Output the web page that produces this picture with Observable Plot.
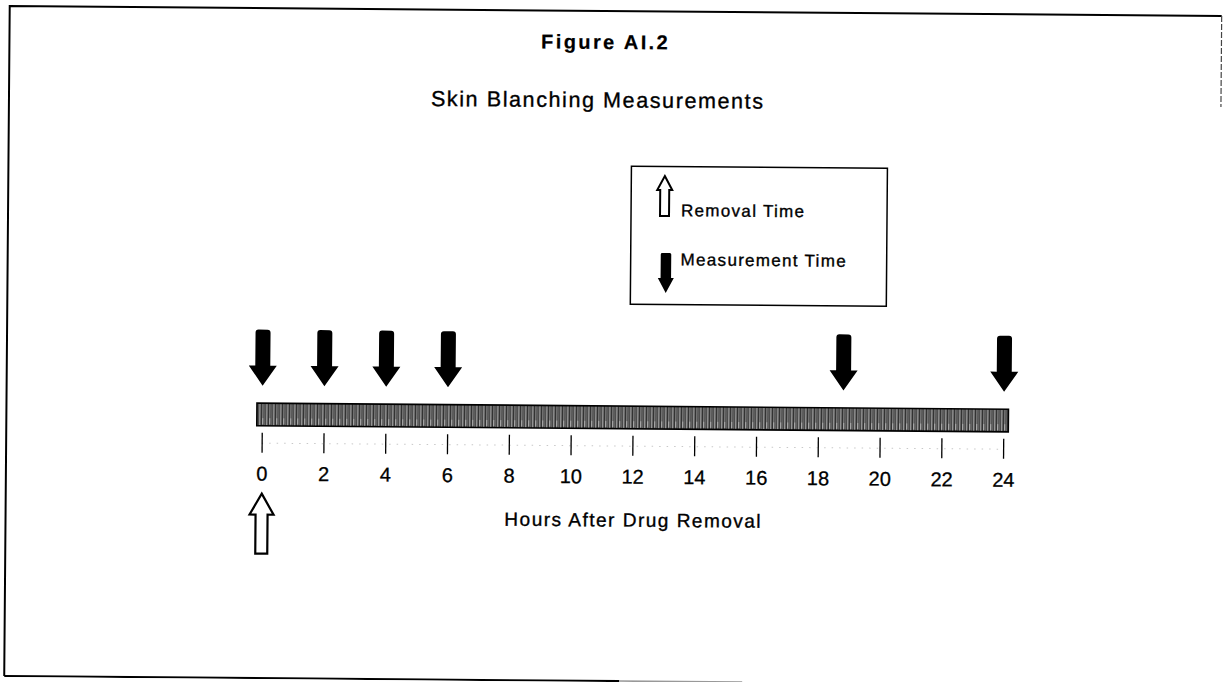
<!DOCTYPE html>
<html>
<head>
<meta charset="utf-8">
<script src="https://cdn.jsdelivr.net/npm/d3@7"></script>
<script src="https://cdn.jsdelivr.net/npm/@observablehq/plot@0.6"></script>
<style>
  html, body { margin: 0; padding: 0; background: #fff; overflow: hidden; }
  #wrap { position: relative; width: 1223px; height: 682px; transform: rotate(0.47deg); transform-origin: 611.5px 341px; }
  #wrap svg { position: absolute; left: 0; top: 0; }
</style>
</head>
<body>
<div id="wrap"></div>
<script>
// ---------------- data ----------------
const tickHours = [0, 2, 4, 6, 8, 10, 12, 14, 16, 18, 20, 22, 24];
const tickLabels = ["0", "2", "4", "6", "8", "10", "12", "14", "16", "18", "20", "22", "24"];
const measurementHours = [0, 2, 4, 6, 18.8, 24];
const removalHours = [0];
const timelineStart = [0];
const timelineEnd = [24];
const titleText = "Figure AI.2";
const subtitleText = "Skin Blanching Measurements";
const axisLabelText = "Hours After Drug Removal";
const legendLabels = ["Removal Time", "Measurement Time"];

// ---------------- layout ----------------
const W = 1223, H = 682;
const FONT = '"Liberation Sans", Arial, Helvetica, sans-serif';
const X0 = 262.5, X24 = 1004;
const BAR_TOP = 406, BAR_BOTTOM = 428.6;
const TICK_TOP = 435.5, TICK_BOTTOM = 455.5;
const TICK_FONT = 20, TICK_BASE = 483;
const MEAS_Y = 360, REM_Y = 524;

// arrow symbol factories (pixel offsets relative to the anchor)
function downArrow(sw, hw, top, base, tip, r) {
  return { draw(ctx) {
    ctx.moveTo(-sw, top + r);
    ctx.quadraticCurveTo(-sw, top, -sw + r, top);
    ctx.lineTo(sw - r, top);
    ctx.quadraticCurveTo(sw, top, sw, top + r);
    ctx.lineTo(sw, base);
    ctx.lineTo(hw, base);
    ctx.lineTo(0, tip);
    ctx.lineTo(-hw, base);
    ctx.lineTo(-sw, base);
    ctx.closePath();
  }};
}
function upArrow(sw, hw, tip, base, bottom) {
  return { draw(ctx) {
    ctx.moveTo(0, tip);
    ctx.lineTo(hw, base);
    ctx.lineTo(sw, base);
    ctx.lineTo(sw, bottom);
    ctx.lineTo(-sw, bottom);
    ctx.lineTo(-sw, base);
    ctx.lineTo(-hw, base);
    ctx.closePath();
  }};
}
const bigDown = downArrow(7.5, 14, -28, 8, 28, 3);
const bigUp = upArrow(6, 12, -28, -7, 32);
const smallUp = upArrow(4.5, 7.5, 0, 14, 40);
const smallDown = downArrow(5.25, 8, 0, 25, 40, 1.5);

const timeline = timelineStart.map((s, i) => ({ start: s, end: timelineEnd[i] }));
const ticks = tickHours.map((h, i) => ({ hour: h, label: tickLabels[i] }));

// ---------------- chart ----------------
const chart = Plot.plot({
  width: W,
  height: H,
  marginTop: 0,
  marginBottom: 0,
  marginLeft: X0,
  marginRight: W - X24,
  x: { domain: [0, 24], axis: null },
  y: { domain: [0, H], range: [0, H], axis: null },
  style: { background: "transparent", fontFamily: FONT, overflow: "visible" },
  marks: [
    Plot.ruleY([445.5], { x1: 0, x2: 24, stroke: "#c8c8c8", strokeWidth: 1, strokeDasharray: "1.5,6" }),
    Plot.rect(timeline, {
      x1: "start", x2: "end", y1: BAR_TOP, y2: BAR_BOTTOM,
      insetLeft: -5, insetRight: -5,
      fill: "url(#hatch)", stroke: "#000", strokeWidth: 1.6
    }),
    Plot.ruleX(ticks, { x: "hour", y1: TICK_TOP, y2: TICK_BOTTOM, stroke: "#000", strokeWidth: 1.3 }),
    Plot.text(ticks, {
      x: "hour", y: TICK_BASE - 0.32 * TICK_FONT, text: "label",
      fontSize: TICK_FONT, fill: "#000", stroke: "#000", strokeWidth: 0.3
    }),
    Plot.dot(measurementHours, { x: d => d, y: MEAS_Y, symbol: bigDown, fill: "#000", stroke: "none" }),
    Plot.dot(removalHours, { x: d => d, y: REM_Y, symbol: bigUp, fill: "#fff", stroke: "#000", strokeWidth: 2.2 })
  ]
});

// hatch pattern for the timeline bar
const defs = d3.select(chart).insert("defs", ":first-child");
const pat = defs.append("pattern").attr("id", "hatch")
  .attr("patternUnits", "userSpaceOnUse").attr("width", 7).attr("height", 23);
pat.append("rect").attr("width", 7).attr("height", 23).attr("fill", "#333");
pat.append("rect").attr("x", 1).attr("width", 1).attr("height", 23).attr("fill", "#c0c0c0");
pat.append("rect").attr("x", 4).attr("width", 1).attr("height", 23).attr("fill", "#9a9a9a");
pat.append("rect").attr("x", 6).attr("width", 1).attr("height", 23).attr("fill", "#777");
pat.append("rect").attr("x", 4).attr("y", 7).attr("width", 1).attr("height", 6).attr("fill", "#d8d8d8");

const wrap = document.getElementById("wrap");
wrap.appendChild(chart);

// ---------------- overlay: frame, titles, legend ----------------
const ov = d3.select(wrap).append("svg")
  .attr("width", W).attr("height", H)
  .style("font-family", FONT).style("pointer-events", "none");

// frame
ov.append("path").attr("d", "M7,681 L7,11 L1219,11")
  .attr("fill", "none").attr("stroke", "#000").attr("stroke-width", 2);
ov.append("path").attr("d", "M1219,11 L1219,102")
  .attr("fill", "none").attr("stroke", "#444").attr("stroke-width", 1.2).attr("stroke-dasharray", "6,2");
ov.append("path").attr("d", "M7,681 L622,681")
  .attr("fill", "none").attr("stroke", "#000").attr("stroke-width", 2);
ov.append("path").attr("d", "M622,681 L745,681")
  .attr("fill", "none").attr("stroke", "#999").attr("stroke-width", 1.6);

function addText(txt, x, y, size, spacing, weight, anchor) {
  ov.append("text")
    .attr("x", anchor === "middle" ? x + spacing / 2 : x)
    .attr("y", y)
    .attr("text-anchor", anchor)
    .attr("font-size", size)
    .attr("font-weight", weight)
    .attr("letter-spacing", spacing)
    .attr("fill", "#000")
    .attr("stroke", "#000")
    .attr("stroke-width", weight === "bold" ? 0.2 : 0.35)
    .text(txt);
}
addText(titleText, 602, 49, 20, 2.4, "bold", "middle");
addText(subtitleText, 595, 107.4, 21.5, 1.6, "normal", "middle");
addText(axisLabelText, 634, 526.5, 19, 1.5, "normal", "middle");

// legend
ov.append("rect").attr("x", 630).attr("y", 166).attr("width", 256).attr("height", 138)
  .attr("fill", "none").attr("stroke", "#000").attr("stroke-width", 1.5);
function symPath(sym) { const p = d3.path(); sym.draw(p, 0); return p.toString(); }
ov.append("path").attr("d", symPath(smallUp)).attr("transform", "translate(663.5,175.6)")
  .attr("fill", "#fff").attr("stroke", "#000").attr("stroke-width", 2);
ov.append("path").attr("d", symPath(smallDown)).attr("transform", "translate(665.3,252.5)")
  .attr("fill", "#000");
addText(legendLabels[0], 680, 215.6, 17, 1.3, "normal", "start");
addText(legendLabels[1], 680, 264.8, 17, 1.3, "normal", "start");
</script>
</body>
</html>
